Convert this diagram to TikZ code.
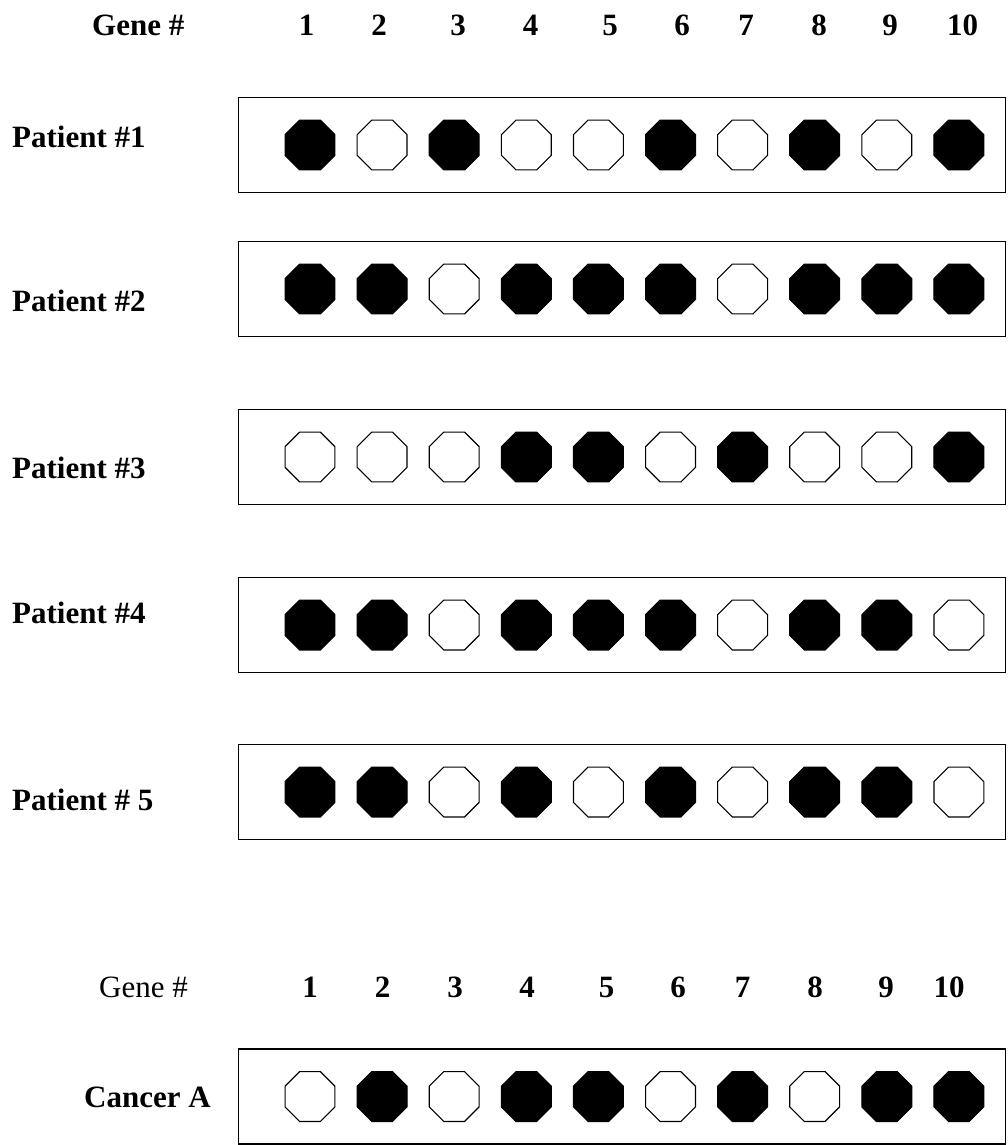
\documentclass[tikz,border=0pt]{standalone}
\usepackage{fontspec}
\setmainfont{Liberation Serif}
\usetikzlibrary{shapes.geometric}
\begin{document}
\begin{tikzpicture}[x=1pt,y=-1pt,
 lbl/.style={inner sep=0pt, anchor=base west, font=\fontsize{31}{36}\selectfont\bfseries},
 lblreg/.style={inner sep=0pt, anchor=base west, font=\fontsize{31}{36}\selectfont},
 num/.style={inner sep=0pt, anchor=base, font=\fontsize{31}{36}\selectfont\bfseries},
 rowbox/.style={draw=black, line width=1.3pt, minimum width=767pt, minimum height=95pt, inner sep=0pt},
 octo/.style={regular polygon, regular polygon sides=8, minimum size=54pt, inner sep=0pt, draw=black, line width=1.1pt},
 oct1/.style={octo, fill=black},
 oct0/.style={octo, fill=white}]
\useasboundingbox (0,0) rectangle (1008,1145);
% header
\node[lbl] (gene) at (92,36) {Gene \#};
\foreach \n/\x in {1/306.5,2/379,3/458,4/530.5,5/610,6/682,7/746,8/819,9/890,10/962.5}
  \node[num] (top\n) at (\x,36) {\n};
% row labels
\node[lbl] (p1) at (12,147) {Patient \#1};
\node[lbl] (p2) at (12,311) {Patient \#2};
\node[lbl] (p3) at (12,478) {Patient \#3};
\node[lbl] (p4) at (12,623) {Patient \#4};
\node[lbl] (p5) at (12,810) {Patient \# 5};
\node[lblreg] (gene2) at (99,997) {Gene \#};
\foreach \n/\x in {1/310,2/382.5,3/455,4/527,5/606.5,6/678,7/742.5,8/815,9/886,10/949}
  \node[num] (bot\n) at (\x,997) {\n};
\node[lbl] (canc) at (84,1107) {Cancer A};
% boxes and octagons
\foreach \r/\y/\pat in {
  1/145/{1,0,1,0,0,1,0,1,0,1},
  2/289/{1,1,0,1,1,1,0,1,1,1},
  3/457/{0,0,0,1,1,0,1,0,0,1},
  4/625/{1,1,0,1,1,1,0,1,1,0},
  5/792/{1,1,0,1,0,1,0,1,1,0},
  6/1096.5/{0,1,0,1,1,0,1,0,1,1}} {
  \node[rowbox] (box\r) at (622,\y) {};
  \foreach \s [count=\i] in \pat {
    \node[oct\s] (g\r-\i) at ({310+72.1*(\i-1)},\y) {};
  }
}
\end{tikzpicture}
\end{document}
